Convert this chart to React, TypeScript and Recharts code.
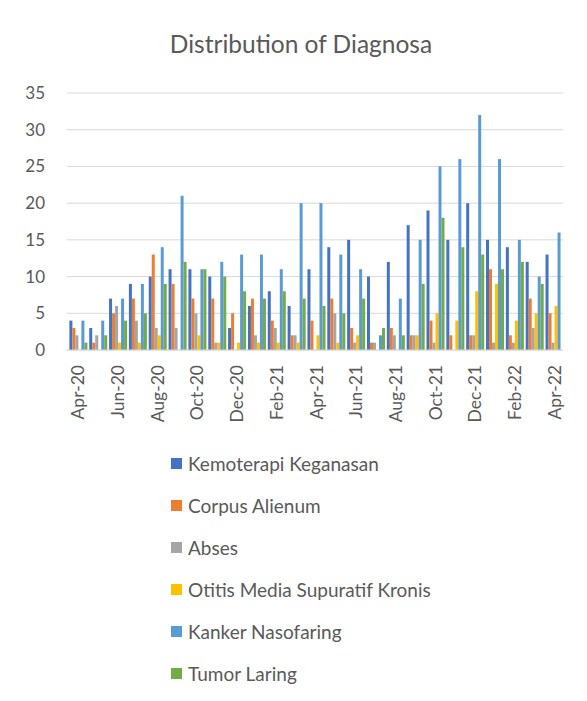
import { Bar, BarChart, CartesianGrid, Legend, XAxis, YAxis } from "recharts";

const months = [
  "Apr-20", "May-20", "Jun-20", "Jul-20", "Aug-20", "Sep-20", "Oct-20", "Nov-20", "Dec-20",
  "Jan-21", "Feb-21", "Mar-21", "Apr-21", "May-21", "Jun-21", "Jul-21", "Aug-21", "Sep-21",
  "Oct-21", "Nov-21", "Dec-21", "Jan-22", "Feb-22", "Mar-22", "Apr-22",
];

const kemoterapi = [4, 3, 7, 9, 10, 11, 11, 10, 3, 6, 8, 6, 11, 14, 15, 10, 12, 17, 19, 15, 20, 15, 14, 12, 13];
const corpusAlienum = [3, 1, 5, 7, 13, 9, 7, 7, 5, 7, 4, 2, 4, 7, 3, 1, 3, 2, 4, 2, 2, 11, 2, 7, 5];
const abses = [2, 2, 6, 4, 3, 3, 5, 1, 0, 2, 3, 2, 0, 5, 1, 1, 2, 2, 1, 0, 2, 1, 1, 3, 1];
const otitis = [0, 0, 1, 1, 2, 0, 2, 1, 1, 1, 1, 1, 2, 1, 2, 0, 0, 2, 5, 4, 8, 9, 4, 5, 6];
const kankerNasofaring = [4, 4, 7, 9, 14, 21, 11, 12, 13, 13, 11, 20, 20, 13, 11, 2, 7, 15, 25, 26, 32, 26, 15, 10, 16];
const tumorLaring = [1, 2, 4, 5, 9, 12, 11, 10, 8, 7, 8, 7, 6, 5, 7, 3, 2, 9, 18, 14, 13, 11, 12, 9, 0];

const yTicks = [0, 5, 10, 15, 20, 25, 30, 35];

const series = [
  { key: "kemo", label: "Kemoterapi Keganasan", color: "#4472c4", values: kemoterapi },
  { key: "corpus", label: "Corpus Alienum", color: "#ed7d31", values: corpusAlienum },
  { key: "abses", label: "Abses", color: "#a5a5a5", values: abses },
  { key: "otitis", label: "Otitis Media Supuratif Kronis", color: "#ffc000", values: otitis },
  { key: "kanker", label: "Kanker Nasofaring", color: "#5b9bd5", values: kankerNasofaring },
  { key: "tumor", label: "Tumor Laring", color: "#70ad47", values: tumorLaring },
];

const data = months.map((month, i) => {
  const row: Record<string, string | number> = { month };
  series.forEach((s) => {
    row[s.key] = s.values[i];
  });
  return row;
});

const FONT = "Lato, 'Open Sans', sans-serif";
const TEXT = "#595959";

function MonthTick({ x, y, payload }: any) {
  return (
    <text
      transform={`translate(${x + 1}, ${y + 7}) rotate(-90)`}
      textAnchor="end"
      dominantBaseline="central"
      fontSize={17.5}
      fill={TEXT}
      fontFamily={FONT}
    >
      {payload.value}
    </text>
  );
}

function LegendList() {
  return (
    <div>
      {series.map((s) => (
        <div
          key={s.key}
          style={{ display: "flex", alignItems: "center", height: 42, fontSize: 19, color: TEXT }}
        >
          <span style={{ width: 11, height: 11, background: s.color, marginRight: 6, flexShrink: 0 }} />
          {s.label}
        </div>
      ))}
    </div>
  );
}

export default function App() {
  return (
    <div
      style={{
        position: "relative",
        width: 587,
        height: 701,
        margin: -8,
        overflow: "hidden",
        background: "#fff",
        fontFamily: FONT,
      }}
    >
      <div
        style={{
          position: "absolute",
          left: 7,
          top: 7,
          width: 640,
          height: 740,
          border: "1.5px solid #d9d9d9",
        }}
      />
      <div
        style={{
          position: "absolute",
          top: 29,
          left: 0,
          width: 602,
          textAlign: "center",
          fontSize: 24.5,
          color: TEXT,
        }}
      >
        Distribution of Diagnosa
      </div>
      <div style={{ position: "absolute", left: 0, top: 0 }}>
        <BarChart
          width={587}
          height={701}
          data={data}
          margin={{ top: 93, right: 24, left: 0, bottom: 271 }}
          barCategoryGap="12%"
          barGap={0}
        >
          <CartesianGrid horizontal vertical={false} stroke="#d9d9d9" />
          <XAxis
            dataKey="month"
            interval={1}
            height={80}
            tickLine={false}
            axisLine={{ stroke: "#d9d9d9" }}
            tick={<MonthTick />}
          />
          <YAxis
            domain={[0, 35]}
            ticks={yTicks}
            width={67}
            axisLine={false}
            tickLine={false}
            tickMargin={16}
            tick={{ fontSize: 17, fill: TEXT, fontFamily: FONT }}
          />
          <Legend
            layout="vertical"
            align="center"
            verticalAlign="middle"
            wrapperStyle={{ left: 171, top: 442, width: 380 }}
            content={() => <LegendList />}
          />
          {series.map((s) => (
            <Bar
              key={s.key}
              dataKey={s.key}
              name={s.label}
              fill={s.color}
              isAnimationActive={false}
            />
          ))}
        </BarChart>
      </div>
    </div>
  );
}
